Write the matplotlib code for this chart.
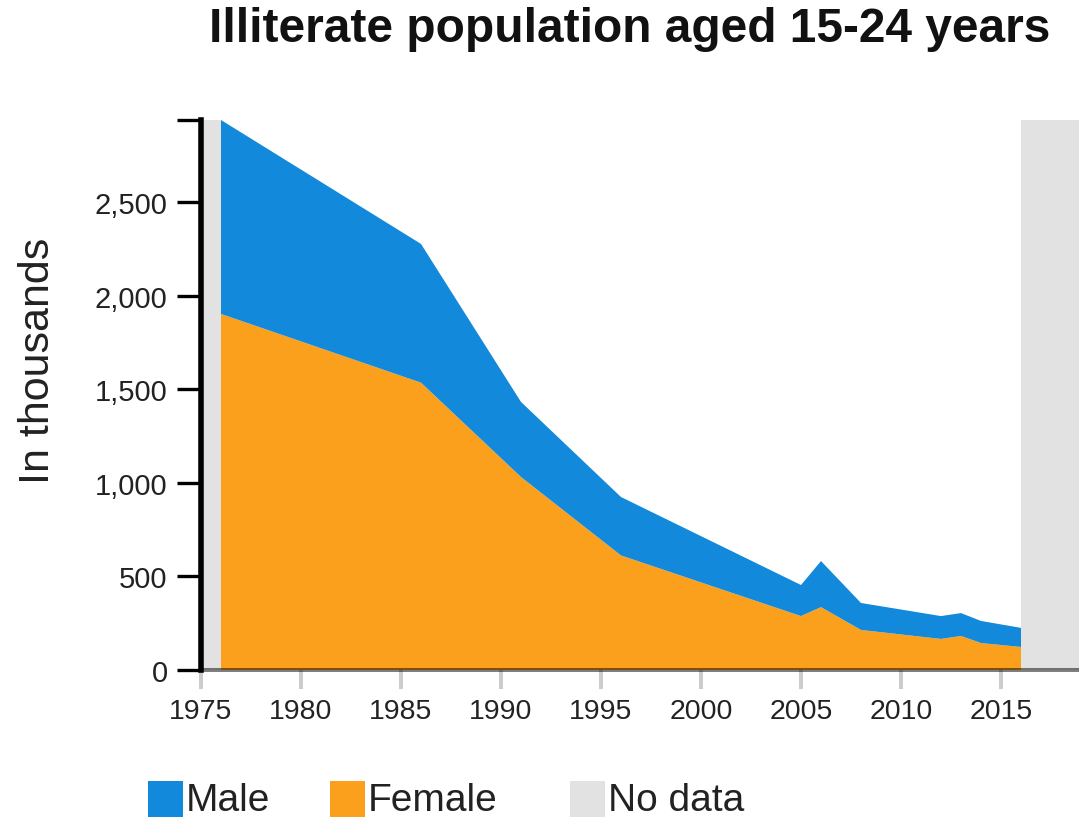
import matplotlib
matplotlib.use("Agg")
import matplotlib.pyplot as plt
from matplotlib.patches import Rectangle
from matplotlib.ticker import FuncFormatter

plt.rcParams['font.family'] = ['Liberation Sans', 'DejaVu Sans']

# ---- data (thousands) ----
years = [1976, 1986, 1991, 1996, 2005, 2006, 2008, 2012, 2013, 2014, 2016]
female = [1902, 1535, 1031, 612, 288, 336, 214, 166, 182, 144, 123]
male = [1036, 741, 401, 312, 166, 246, 144, 122, 122, 118, 102]
nodata_ranges = [(1975, 1976), (2016, 2018.9)]
yticks = [0, 500, 1000, 1500, 2000, 2500]
xticks = [1975, 1980, 1985, 1990, 1995, 2000, 2005, 2010, 2015]

title = "Illiterate population aged 15-24 years"
ylabel = "In thousands"
legend_labels = ["Male", "Female", "No data"]

BLUE = "#1289DB"
ORANGE = "#FAA01C"
GREY = "#E2E2E2"

W, H = 1079, 820
fig = plt.figure(figsize=(W / 100, H / 100), dpi=100)

left_px, right_px, top_px, bottom_px = 201, 1079, 121, 671
ax = fig.add_axes([left_px / W, 1 - bottom_px / H,
                   (right_px - left_px) / W, (bottom_px - top_px) / H])

ymax = max(f + m for f, m in zip(female, male))
ax.set_xlim(1975, 2018.9)
ax.set_ylim(0, ymax)

for a, b in nodata_ranges:
    ax.axvspan(a, b, color=GREY, lw=0, zorder=1)

ax.stackplot(years, female, male, colors=[ORANGE, BLUE], lw=0, zorder=2)

# spines
for s in ['top', 'right']:
    ax.spines[s].set_visible(False)
ax.spines['left'].set_color('black')
ax.spines['left'].set_linewidth(4.0)
ax.spines['left'].set_zorder(5)
ax.spines['bottom'].set_color((0, 0, 0, 0.5))
ax.spines['bottom'].set_linewidth(2.9)
ax.spines['bottom'].set_zorder(5)

ax.set_yticks(yticks)
ax.set_yticks([ymax], minor=True)
ax.yaxis.set_major_formatter(FuncFormatter(lambda v, p: f"{int(v):,}"))
ax.tick_params(axis='y', which='both', length=17, width=2.4, color='black',
               labelsize=21, pad=7, labelcolor='#222222')
ax.set_xticks(xticks)
ax.tick_params(axis='x', length=14, width=2.9, color='#cccccc',
               labelsize=20.5, pad=6, labelcolor='#222222')
ax.patch.set_alpha(0)

fig.text(38 / W, 1 - 361 / H, ylabel, rotation=90, ha='center', va='center',
         fontsize=31, color='#222222')
fig.text(630 / W, 1 - 30 / H, title, ha='center', va='center',
         fontsize=34.5, fontweight='bold', color='#111111')

# legend
leg = [(148, BLUE, legend_labels[0]), (330, ORANGE, legend_labels[1]),
       (570, GREY, legend_labels[2])]
for x0, c, lab in leg:
    fig.patches.append(Rectangle((x0 / W, 1 - 818 / H), 35 / W, 36 / H,
                                 transform=fig.transFigure, color=c, lw=0))
    fig.text((x0 + 38) / W, 1 - 801 / H, lab, ha='left', va='center',
             fontsize=28, color='#222222')

fig.savefig("out.png", dpi=100)
